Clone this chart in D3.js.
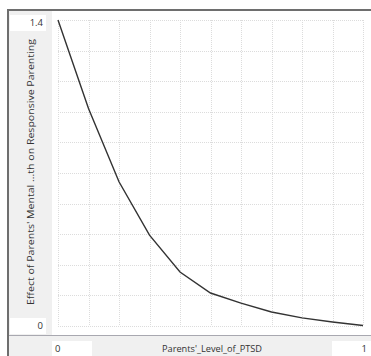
<!DOCTYPE html>
<html>
<head>
<meta charset="utf-8">
<script src="https://cdn.jsdelivr.net/npm/d3@7"></script>
<style>
  html, body { margin: 0; padding: 0; background: #fff; }
  svg { display: block; }
  text { font-family: "Segoe UI", "Open Sans", "Noto Sans", sans-serif; fill: #333; }
</style>
</head>
<body>
<svg id="chart" width="371" height="356"></svg>
<script>
// ---- data ----
const xValues = [0, 0.1, 0.2, 0.3, 0.4, 0.5, 0.6, 0.7, 0.8, 0.9, 1.0];
const effectValues = [1.4, 0.995, 0.66, 0.416, 0.247, 0.151, 0.105, 0.064, 0.037, 0.018, 0.002];
const xDomain = [0, 1];
const yDomain = [0, 1.4];
const xTickLabels = ["0", "1"];
const yTickLabels = ["0", "1.4"];
const xTitle = "Parents'_Level_of_PTSD";
const yTitle = "Effect of Parents' Mental ...th on Responsive Parenting";
const gridTicks = [0, 0.1, 0.2, 0.3, 0.4, 0.5, 0.6, 0.7, 0.8, 0.9, 1.0];

const svg = d3.select("#chart");
const W = 371, H = 356;

const x = d3.scaleLinear().domain(xDomain).range([58, 363]);
const y = d3.scaleLinear().domain(yDomain).range([326, 20]);

// panels
svg.append("rect").attr("x", 8).attr("y", 10).attr("width", W - 8).attr("height", H - 10).attr("fill", "#f0f0f0");
svg.append("rect").attr("x", 52).attr("y", 11).attr("width", W - 52).attr("height", 324).attr("fill", "#fff");

// grid
const grid = svg.append("g").attr("stroke", "#dcdcdc").attr("stroke-width", 1).attr("stroke-dasharray", "1,1");
gridTicks.forEach(t => {
  grid.append("line").attr("x1", Math.round(x(t)) + 0.5).attr("x2", Math.round(x(t)) + 0.5)
    .attr("y1", y(yDomain[1])).attr("y2", y(0));
});
const yGrid = d3.range(0, 11).map(i => yDomain[1] * i / 10);
yGrid.forEach(t => {
  grid.append("line").attr("y1", Math.round(y(t)) + 0.5).attr("y2", Math.round(y(t)) + 0.5)
    .attr("x1", x(0)).attr("x2", x(1));
});

// frame lines
svg.append("line").attr("x1", 8).attr("x2", W).attr("y1", 10).attr("y2", 10).attr("stroke", "#6e6e6e").attr("stroke-width", 2);
svg.append("line").attr("x1", 8).attr("x2", 8).attr("y1", 9).attr("y2", H).attr("stroke", "#6e6e6e").attr("stroke-width", 2);
svg.append("line").attr("x1", 9).attr("x2", W).attr("y1", 335.5).attr("y2", 335.5).attr("stroke", "#a8a8b0").attr("stroke-width", 1);

// curve
const line = d3.line().x((d, i) => x(xValues[i])).y(d => y(d));
svg.append("path").datum(effectValues).attr("d", line)
  .attr("fill", "none").attr("stroke", "#333").attr("stroke-width", 1.4);

// y labels in boxes
svg.append("rect").attr("x", 10).attr("y", 15).attr("width", 36).attr("height", 16).attr("fill", "#fff");
svg.append("text").attr("x", 43).attr("y", 23).attr("dy", "0.35em").attr("text-anchor", "end")
  .attr("font-size", 9.5).text(yTickLabels[1]);
svg.append("rect").attr("x", 10).attr("y", 318).attr("width", 36).attr("height", 16).attr("fill", "#fff");
svg.append("text").attr("x", 43).attr("y", 326).attr("dy", "0.35em").attr("text-anchor", "end")
  .attr("font-size", 9.5).text(yTickLabels[0]);

// x labels in boxes
svg.append("rect").attr("x", 52).attr("y", 341).attr("width", 40).attr("height", 15).attr("fill", "#fff");
svg.append("text").attr("x", 55).attr("y", 349).attr("dy", "0.35em").attr("text-anchor", "start")
  .attr("font-size", 9.5).text(xTickLabels[0]);
svg.append("rect").attr("x", 332).attr("y", 341).attr("width", 39).attr("height", 15).attr("fill", "#fff");
svg.append("text").attr("x", 367).attr("y", 349).attr("dy", "0.35em").attr("text-anchor", "end")
  .attr("font-size", 9.5).text(xTickLabels[1]);

// titles
svg.append("text").attr("x", 212).attr("y", 349).attr("dy", "0.35em").attr("text-anchor", "middle")
  .attr("font-size", 9.5).attr("textLength", 100).attr("lengthAdjust", "spacingAndGlyphs").text(xTitle);
svg.append("text").attr("transform", "translate(31,172) rotate(-90)").attr("dy", "0.35em")
  .attr("text-anchor", "middle").attr("font-size", 9.5).attr("textLength", 266)
  .attr("lengthAdjust", "spacingAndGlyphs").text(yTitle);
</script>
</body>
</html>
